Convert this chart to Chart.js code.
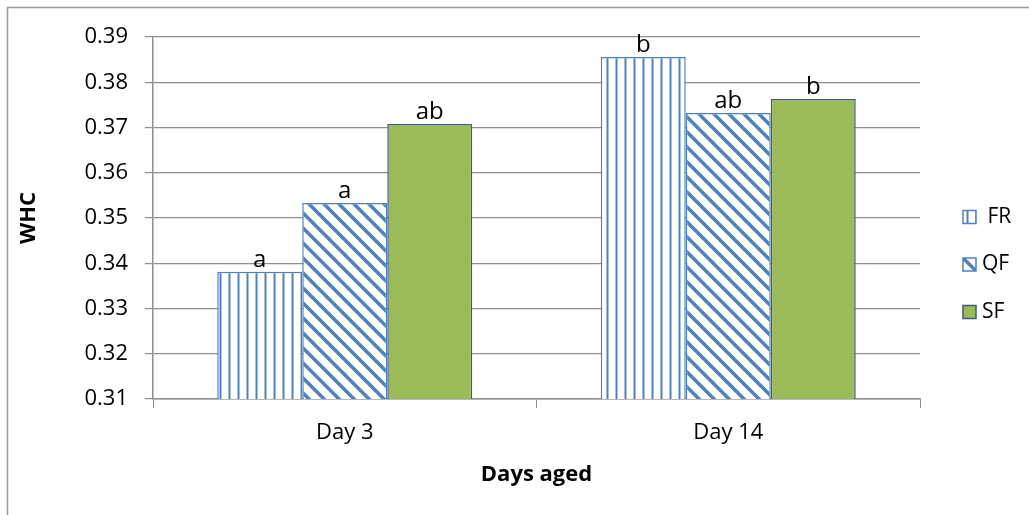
<!DOCTYPE html>
<html>
<head>
<meta charset="utf-8">
<script src="https://cdn.jsdelivr.net/npm/chart.js@4/dist/chart.umd.min.js"></script>
<style>
  body { margin: 0; background: #fff; }
  #wrap { width: 1029px; height: 515px; position: relative; }
</style>
</head>
<body>
<div id="wrap"><canvas id="whcChart"></canvas></div>
<script>
// data
const days = ['Day 3', 'Day 14'];
const seriesNames = [' FR', 'QF', 'SF'];
const frValues = [0.3381, 0.3856];
const qfValues = [0.3533, 0.3732];
const sfValues = [0.3708, 0.3763];
const frLetters = ['a', 'b'];
const qfLetters = ['a', 'ab'];
const sfLetters = ['ab', 'b'];
const yTicks = [0.31, 0.32, 0.33, 0.34, 0.35, 0.36, 0.37, 0.38, 0.39];

const blue = '#4F81BD';
const green = '#9BBB59';
const gridGrey = '#8E8E8E';
const fontName = "'Open Sans', 'Liberation Sans', sans-serif";

function makePattern(kind) {
    const c = document.createElement('canvas');
    const s = kind === 'v' ? 9 : 15;
    c.width = s; c.height = s;
    const g = c.getContext('2d');
    g.fillStyle = '#fff';
    g.fillRect(0, 0, s, s);
    g.strokeStyle = blue;
    g.beginPath();
    if (kind === 'v') {
        g.lineWidth = 2;
        g.moveTo(4.5, 0); g.lineTo(4.5, s);
    } else {
        g.lineWidth = 3.5;
        g.moveTo(-1, -1); g.lineTo(s + 1, s + 1);
        g.moveTo(-s - 1, -1); g.lineTo(1, s + 1);
        g.moveTo(s - 1, -1); g.lineTo(2 * s + 1, s + 1);
    }
    g.stroke();
    return g.createPattern(c, 'repeat');
}

const frFill = makePattern('v');
const qfFill = makePattern('d');

const letters = [frLetters, qfLetters, sfLetters];

const frame = {
    id: 'frame',
    beforeDraw(chart) {
        const ctx = chart.ctx;
        ctx.save();
        ctx.strokeStyle = '#9a9a9a';
        ctx.lineWidth = 1.5;
        ctx.strokeRect(7.5, 7.5, 1200, 700);
        ctx.restore();
    }
};

const barLetters = {
    id: 'barLetters',
    afterDatasetsDraw(chart) {
        const ctx = chart.ctx;
        ctx.save();
        ctx.font = '24px ' + fontName;
        ctx.fillStyle = '#000';
        ctx.textAlign = 'center';
        ctx.textBaseline = 'alphabetic';
        chart.data.datasets.forEach((ds, i) => {
            chart.getDatasetMeta(i).data.forEach((bar, j) => {
                ctx.fillText(letters[i][j], bar.x, bar.y - 5);
            });
        });
        ctx.restore();
    }
};

const sideLegend = {
    id: 'sideLegend',
    afterDraw(chart) {
        const ctx = chart.ctx;
        ctx.save();
        ctx.font = '21px ' + fontName;
        ctx.textBaseline = 'middle';
        chart.data.datasets.forEach((ds, i) => {
            const y = 217 + i * 47.5;
            ctx.fillStyle = ds.backgroundColor;
            ctx.fillRect(963, y - 6.5, 13, 13);
            ctx.strokeStyle = ds.borderColor;
            ctx.lineWidth = 1.5;
            ctx.strokeRect(963, y - 6.5, 13, 13);
            ctx.fillStyle = '#000';
            ctx.fillText(ds.label, 982, y);
        });
        ctx.restore();
    }
};

new Chart(document.getElementById('whcChart').getContext('2d'), {
    type: 'bar',
    data: {
        labels: days,
        datasets: [
            { label: seriesNames[0], data: frValues, backgroundColor: frFill, borderColor: blue, borderWidth: 1.5 },
            { label: seriesNames[1], data: qfValues, backgroundColor: qfFill, borderColor: blue, borderWidth: 1.5 },
            { label: seriesNames[2], data: sfValues, backgroundColor: green, borderColor: '#3B5A80', borderWidth: 1.5 }
        ]
    },
    options: {
        responsive: true,
        maintainAspectRatio: false,
        animation: false,
        datasets: { bar: { categoryPercentage: 0.665, barPercentage: 1 } },
        layout: { padding: { left: 0, top: 37, right: 109, bottom: 0 } },
        plugins: {
            legend: { display: false },
            tooltip: { enabled: false }
        },
        scales: {
            x: {
                afterFit: (s) => { s.height = 116; },
                grid: { drawOnChartArea: false, color: gridGrey, tickLength: 9 },
                border: { color: gridGrey, width: 1.5 },
                ticks: { color: '#000', font: { family: fontName, size: 22 }, padding: 12 },
                title: {
                    display: true, text: 'Days aged', color: '#000',
                    font: { family: fontName, size: 22, weight: 'bold' },
                    padding: { top: 0, bottom: 27 }
                }
            },
            y: {
                min: yTicks[0],
                max: yTicks[yTicks.length - 1],
                afterFit: (s) => { s.width = 153; },
                afterBuildTicks: (s) => { s.ticks = yTicks.map(v => ({ value: v })); },
                grid: { color: gridGrey, tickLength: 8, lineWidth: 1.2 },
                border: { color: gridGrey, width: 1.5 },
                ticks: {
                    color: '#000', font: { family: fontName, size: 22 }, padding: 17,
                    callback: (v) => Number(v).toFixed(2)
                },
                title: {
                    display: true, text: 'WHC', color: '#000',
                    font: { family: fontName, size: 22, weight: 'bold' },
                    padding: { top: 16, bottom: 0 }
                }
            }
        }
    },
    plugins: [frame, barLetters, sideLegend]
});
</script>
</body>
</html>
